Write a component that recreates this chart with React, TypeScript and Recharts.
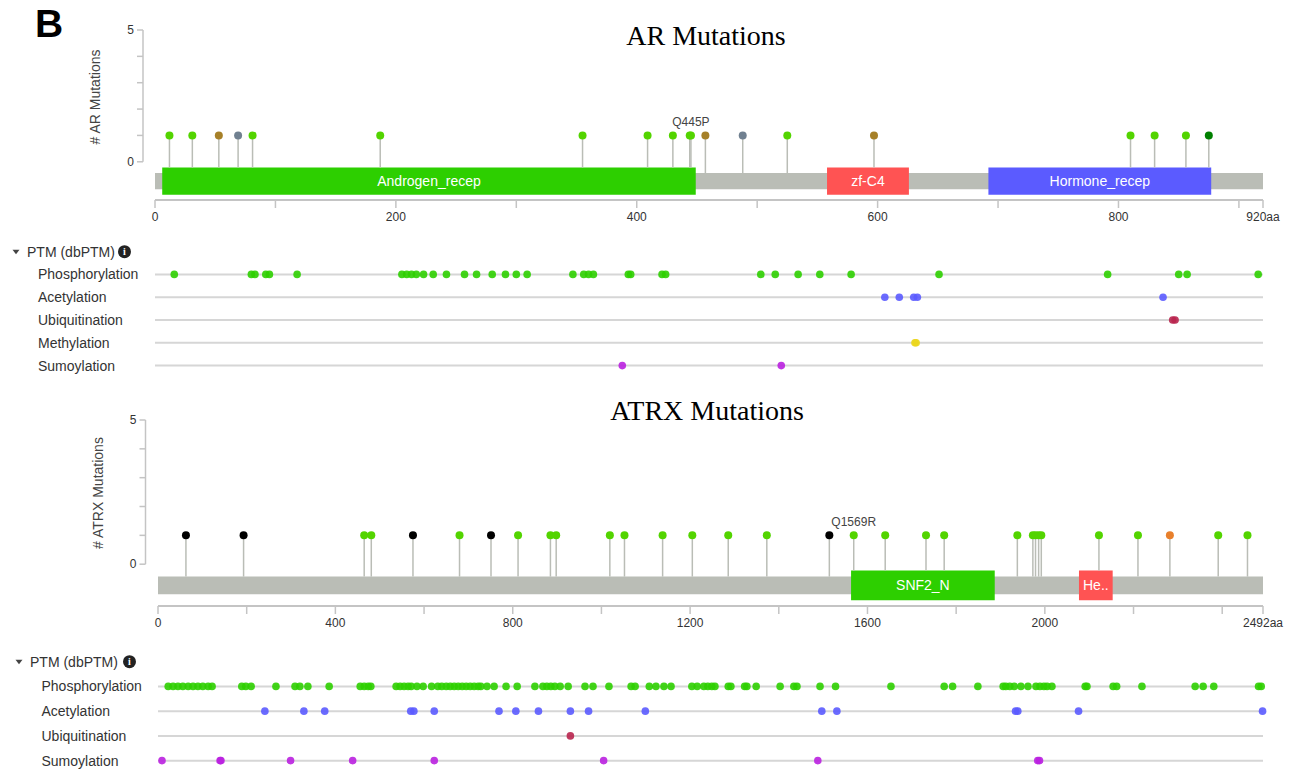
import React from 'react';
import { ScatterChart, Scatter, XAxis, YAxis, ReferenceLine, ReferenceArea, ReferenceDot } from 'recharts';

// ---- AR ----
const arLength = 920;
const arTicks = [0, 100, 200, 300, 400, 500, 600, 700, 800, 900, 920];
const arTickLabels = [0, 200, 400, 600, 800, 920];
const arDomainNames = ['Androgen_recep', 'zf-C4', 'Hormone_recep'];
const arDomainStart = [6, 558, 692];
const arDomainEnd = [449, 626, 877];
const arMutPos = [12, 31, 53, 69, 81, 187, 355, 409, 430, 444, 445, 457, 488, 525, 597, 810, 830, 856, 875];
const arMutType = ['missense', 'missense', 'inframe', 'truncVus', 'missense', 'missense', 'missense', 'missense', 'missense', 'missense', 'missense', 'inframe', 'truncVus', 'missense', 'inframe', 'missense', 'missense', 'missense', 'missenseDriver'];
const arMutCount = [1, 1, 1, 1, 1, 1, 1, 1, 1, 1, 1, 1, 1, 1, 1, 1, 1, 1, 1];
const arLabelPos = [445];
const arLabelText = ['Q445P'];

const arPtmNames = ['Phosphorylation', 'Acetylation', 'Ubiquitination', 'Methylation', 'Sumoylation'];
const arPhospho = [16, 80, 83, 92, 95, 118, 205, 209, 213, 217, 223, 231, 242, 257, 267, 280, 291, 300, 309, 347, 356, 360, 364, 393, 395, 421, 424, 503, 515, 534, 552, 578, 651, 791, 850, 857, 916];
const arAcetyl = [606, 618, 630, 633, 837];
const arUbiq = [845, 847];
const arMethyl = [631, 632];
const arSumo = [388, 520];

// ---- ATRX ----
const atrxLength = 2492;
const atrxTicks = [0, 200, 400, 600, 800, 1000, 1200, 1400, 1600, 1800, 2000, 2200, 2400, 2492];
const atrxTickLabels = [0, 400, 800, 1200, 1600, 2000, 2492];
const atrxDomainNames = ['SNF2_N', 'He..'];
const atrxDomainStart = [1563, 2077];
const atrxDomainEnd = [1887, 2153];
const atrxMutPos = [63, 193, 465, 481, 575, 680, 751, 812, 885, 898, 1019, 1052, 1138, 1205, 1286, 1373, 1514, 1569, 1640, 1732, 1773, 1938, 1973, 1979, 1986, 1992, 2122, 2210, 2282, 2391, 2457];
const atrxMutType = ['trunc', 'trunc', 'missense', 'missense', 'trunc', 'missense', 'trunc', 'missense', 'missense', 'missense', 'missense', 'missense', 'missense', 'missense', 'missense', 'missense', 'trunc', 'missense', 'missense', 'missense', 'missense', 'missense', 'missense', 'missense', 'missense', 'missense', 'missense', 'missense', 'splice', 'missense', 'missense'];
const atrxMutCount = [1, 1, 1, 1, 1, 1, 1, 1, 1, 1, 1, 1, 1, 1, 1, 1, 1, 1, 1, 1, 1, 1, 1, 1, 1, 1, 1, 1, 1, 1, 1];
const atrxLabelPos = [1569];
const atrxLabelText = ['Q1569R'];

const atrxPtmNames = ['Phosphorylation', 'Acetylation', 'Ubiquitination', 'Sumoylation'];
const atrxPhospho = [23, 34, 45, 56, 68, 79, 90, 101, 113, 122, 189, 198, 210, 266, 309, 320, 338, 386, 456, 465, 474, 480, 537, 546, 555, 564, 571, 584, 598, 617, 631, 640, 650, 659, 668, 677, 686, 695, 704, 713, 722, 728, 742, 758, 785, 810, 850, 868, 877, 886, 895, 907, 925, 963, 981, 1017, 1067, 1076, 1108, 1123, 1141, 1157, 1204, 1216, 1231, 1240, 1249, 1256, 1286, 1292, 1323, 1328, 1349, 1403, 1434, 1441, 1493, 1528, 1653, 1773, 1792, 1849, 1906, 1912, 1921, 1931, 1946, 1962, 1980, 1989, 1998, 2005, 2016, 2091, 2095, 2154, 2162, 2219, 2339, 2357, 2381, 2482, 2488];
const atrxAcetyl = [241, 329, 376, 570, 577, 623, 769, 807, 858, 930, 971, 1099, 1497, 1531, 1934, 1939, 2076, 2491];
const atrxUbiq = [930];
const atrxSumo = [9, 140, 142, 299, 439, 623, 1005, 1488, 1984, 1988];

// colours
const mutColors: Record<string, string> = {
  missense: '#53d400',
  missenseDriver: '#008000',
  inframe: '#a68028',
  truncVus: '#708090',
  trunc: '#000000',
  splice: '#e8802c',
};
const domainColors: Record<string, string> = {
  Androgen_recep: '#2dcf00',
  'zf-C4': '#ff5353',
  Hormone_recep: '#5b5bff',
  SNF2_N: '#2dcf00',
  'He..': '#ff5353',
};
const ptmColors: Record<string, string> = {
  Phosphorylation: '#2dcf00',
  Acetylation: '#5b5bff',
  Ubiquitination: '#b9264f',
  Methylation: '#ebd61d',
  Sumoylation: '#ba21e0',
};

const W = 1291;
const RIGHT = 28;
const Y_MIN = -1.45;
const Y_MAX = 5;
const BAR_TOP = -0.43;
const BAR_BOTTOM = -1.04;
const DOM_TOP = -0.22;
const DOM_BOTTOM = -1.25;
const AXIS_COLOR = '#c4c4c4';
const FONT = '"Liberation Sans", Arial, sans-serif';

function LollipopPlot(props: any) {
  const { top, height, plotLeft, marginBottom, length, ticks, tickLabels, mutPos, mutType, mutCount,
    domStart, domEnd, domNames, labelPos, labelText, axisGap } = props;
  const data = mutPos.map((p: number, i: number) => ({ pos: p, count: mutCount[i], type: mutType[i] }));
  const plotWidth = W - plotLeft - RIGHT;
  const axisX = (-axisGap * length) / plotWidth;
  const inDomain = (p: number) => domStart.some((s: number, i: number) => p >= s && p <= domEnd[i]);

  const countTick = (t: any) => {
    const ax = t.x - axisGap;
    const v = t.payload.value;
    return (
      <g>
        <line x1={ax - 6} x2={ax} y1={t.y} y2={t.y} stroke={AXIS_COLOR} strokeWidth={1.5} />
        {(v === 0 || v === 5) && (
          <text x={ax - 9} y={t.y} dy="0.35em" textAnchor="end" fontSize={12} fill="#333">{v}</text>
        )}
      </g>
    );
  };
  const posTick = (t: any) => {
    const v = t.payload.value;
    if (!tickLabels.includes(v)) return <g />;
    return (
      <text x={t.x} y={t.y} dy="0.71em" textAnchor="middle" fontSize={12} fill="#333">
        {v === length ? `${v}aa` : v}
      </text>
    );
  };

  return (
    <div style={{ position: 'absolute', left: 0, top }}>
      <ScatterChart width={W} height={height} margin={{ top: 30, right: RIGHT, bottom: marginBottom, left: plotLeft - 60 }}>
        <XAxis type="number" dataKey="pos" domain={[0, length]} ticks={ticks} interval={0}
          axisLine={{ stroke: AXIS_COLOR, strokeWidth: 2 }} tickLine={{ stroke: AXIS_COLOR, strokeWidth: 1.5 }}
          tickSize={8} tickMargin={4} height={28} tick={posTick} />
        <YAxis type="number" dataKey="count" domain={[Y_MIN, Y_MAX]} ticks={[0, 1, 2, 3, 4, 5]} interval={0}
          width={60} axisLine={false} tickLine={false} tickSize={0} tickMargin={0} tick={countTick} />
        <ReferenceLine segment={[{ x: axisX, y: 0 }, { x: axisX, y: 5 }]} ifOverflow="visible"
          stroke={AXIS_COLOR} strokeWidth={1.5} />
        {data.map((m: any, i: number) => (
          <ReferenceLine key={'stem' + i}
            segment={[{ x: m.pos, y: inDomain(m.pos) ? DOM_TOP : BAR_TOP }, { x: m.pos, y: m.count }]}
            stroke="#babdb6" strokeWidth={1.5} />
        ))}
        <ReferenceArea x1={0} x2={length} y1={BAR_BOTTOM} y2={BAR_TOP} fill="#babdb6" fillOpacity={1} stroke="none" />
        {domNames.map((n: string, i: number) => (
          <ReferenceArea key={'dom' + i} x1={domStart[i]} x2={domEnd[i]} y1={DOM_BOTTOM} y2={DOM_TOP}
            fill={domainColors[n]} fillOpacity={1} stroke="none"
            label={{ value: n, position: 'center', fill: '#ffffff', fontSize: 14 }} />
        ))}
        <Scatter data={data} isAnimationActive={false}
          shape={(p: any) => (
            <circle cx={p.cx} cy={p.cy} r={4} fill={mutColors[p.payload?.type] || p.fill} />
          )} />
        {labelPos.map((p: number, i: number) => (
          <ReferenceDot key={'lab' + i} x={p} y={1} r={4} fill="none" stroke="none"
            label={{ value: labelText[i], position: 'top', offset: 5, fontSize: 12, fill: '#444' }} />
        ))}
      </ScatterChart>
    </div>
  );
}

function PtmTracks(props: any) {
  const { top, height, plotLeft, length, names, sites, labelX } = props;
  const labelTick = (t: any) => (
    <text x={labelX} y={t.y} dy="0.35em" fontSize={14} fill="#333">{names[t.payload.value]}</text>
  );
  return (
    <div style={{ position: 'absolute', left: 0, top }}>
      <ScatterChart width={W} height={height} margin={{ top: 0, right: RIGHT, bottom: 0, left: 0 }}>
        <XAxis type="number" dataKey="pos" domain={[0, length]} hide />
        <YAxis type="number" dataKey="row" domain={[-0.5, names.length - 0.5]} reversed
          ticks={names.map((_: string, i: number) => i)} interval={0} width={plotLeft}
          axisLine={false} tickLine={false} tick={labelTick} />
        {names.map((_: string, i: number) => (
          <ReferenceLine key={'track' + i} y={i} stroke="#d6d6d6" strokeWidth={2} />
        ))}
        {names.map((n: string, i: number) => (
          <Scatter key={'ptm' + i} data={sites[i].map((p: number) => ({ pos: p, row: i }))}
            isAnimationActive={false}
            shape={(p: any) => <circle cx={p.cx} cy={p.cy} r={3.8} fill={ptmColors[n]} fillOpacity={0.9} />} />
        ))}
      </ScatterChart>
    </div>
  );
}

function PtmHeader({ x, y, iconX }: { x: number; y: number; iconX: number }) {
  return (
    <g>
      <polygon points={`${x - 3.5},${y - 2} ${x + 3.5},${y - 2} ${x},${y + 2.5}`} fill="#444" />
      <text x={x + 11} y={y} dy="0.35em" fontSize={14} fill="#333">PTM (dbPTM)</text>
      <circle cx={iconX} cy={y} r={6.5} fill="#222" />
      <text x={iconX} y={y} dy="0.36em" textAnchor="middle" fontSize={10} fontWeight="bold" fill="#fff"
        fontFamily='"Liberation Serif", serif'>i</text>
    </g>
  );
}

export default function App() {
  return (
    <div style={{ position: 'absolute', left: 0, top: 0, width: W, height: 773, background: '#fff', fontFamily: FONT }}>
      <LollipopPlot top={0} height={231} plotLeft={155} marginBottom={3} length={arLength}
        ticks={arTicks} tickLabels={arTickLabels} mutPos={arMutPos} mutType={arMutType} mutCount={arMutCount}
        domStart={arDomainStart} domEnd={arDomainEnd} domNames={arDomainNames}
        labelPos={arLabelPos} labelText={arLabelText} axisGap={12} />
      <PtmTracks top={263} height={114} plotLeft={155} length={arLength}
        names={arPtmNames} sites={[arPhospho, arAcetyl, arUbiq, arMethyl, arSumo]} labelX={38} />
      <LollipopPlot top={390} height={250} plotLeft={158} marginBottom={6} length={atrxLength}
        ticks={atrxTicks} tickLabels={atrxTickLabels} mutPos={atrxMutPos} mutType={atrxMutType} mutCount={atrxMutCount}
        domStart={atrxDomainStart} domEnd={atrxDomainEnd} domNames={atrxDomainNames}
        labelPos={atrxLabelPos} labelText={atrxLabelText} axisGap={12.5} />
      <PtmTracks top={674} height={99} plotLeft={158} length={atrxLength}
        names={atrxPtmNames} sites={[atrxPhospho, atrxAcetyl, atrxUbiq, atrxSumo]} labelX={41.5} />

      <svg width={W} height={773} style={{ position: 'absolute', left: 0, top: 0, pointerEvents: 'none' }}>
        <text x={35} y={37} fontSize={39} fontWeight="bold" fill="#000">B</text>
        <text x={706} y={45} textAnchor="middle" fontSize={28} fill="#000" fontFamily='"Liberation Serif", "Times New Roman", serif'>AR Mutations</text>
        <text x={707} y={420} textAnchor="middle" fontSize={28} fill="#000" fontFamily='"Liberation Serif", "Times New Roman", serif'>ATRX Mutations</text>
        <text transform="translate(95,97) rotate(-90)" textAnchor="middle" dy="0.35em" fontSize={14} fill="#444"># AR Mutations</text>
        <text transform="translate(98,493) rotate(-90)" textAnchor="middle" dy="0.35em" fontSize={14} fill="#444"># ATRX Mutations</text>
        <PtmHeader x={16} y={251.7} iconX={124.5} />
        <PtmHeader x={19} y={661.7} iconX={129.5} />
      </svg>
    </div>
  );
}
